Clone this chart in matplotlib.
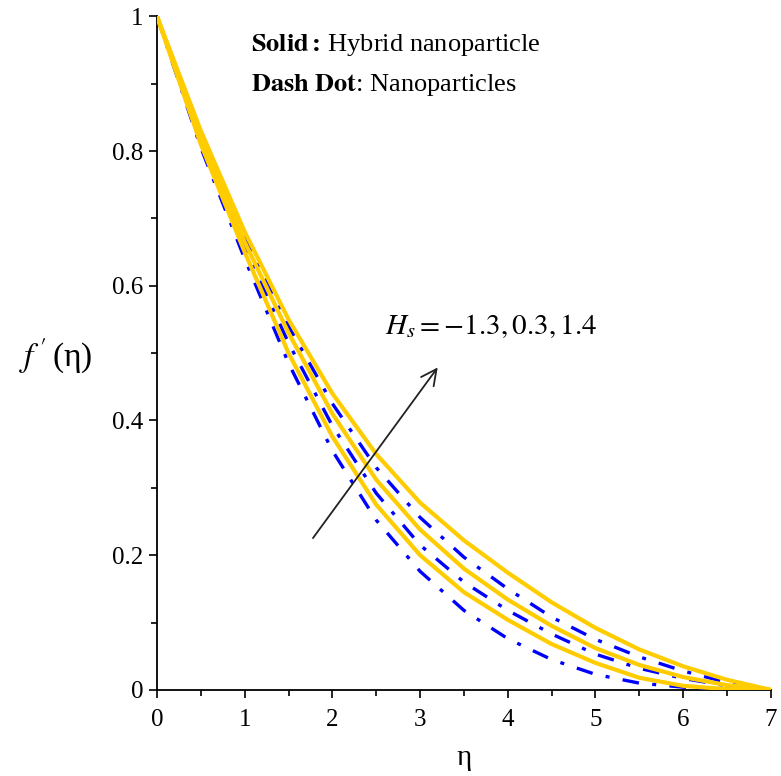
import matplotlib
matplotlib.use('Agg')
import matplotlib.pyplot as plt
import numpy as np

plt.rcParams['font.family'] = ['Liberation Serif', 'DejaVu Serif']
plt.rcParams['mathtext.fontset'] = 'stix'

eta = [0, 0.5, 1, 1.5, 2, 2.5, 3, 3.5, 4, 4.5, 5, 5.5, 6, 6.5, 7]

# solid: hybrid nanoparticle, Hs = 1.4, 0.3, -1.3 (top to bottom)
hybrid_hs_14 = [1, 0.83, 0.68, 0.55, 0.44, 0.35, 0.278, 0.222, 0.174, 0.13, 0.092, 0.06, 0.035, 0.015, 0]
hybrid_hs_03 = [1, 0.82, 0.665, 0.53, 0.41, 0.312, 0.238, 0.18, 0.134, 0.095, 0.062, 0.037, 0.019, 0.007, 0]
hybrid_hs_m13 = [1, 0.81, 0.65, 0.50, 0.376, 0.275, 0.20, 0.145, 0.104, 0.068, 0.04, 0.018, 0.006, 0.001, 0]

# dash dot: nanoparticles
nano_hs_14 = [1, 0.825, 0.672, 0.54, 0.425, 0.33, 0.256, 0.197, 0.15, 0.108, 0.075, 0.049, 0.028, 0.011, 0]
nano_hs_03 = [1, 0.815, 0.657, 0.515, 0.392, 0.292, 0.215, 0.16, 0.118, 0.083, 0.053, 0.032, 0.017, 0.006, 0]
nano_hs_m13 = [1, 0.805, 0.64, 0.485, 0.355, 0.252, 0.176, 0.118, 0.076, 0.045, 0.023, 0.01, 0.004, 0.001, 0]

fig = plt.figure(figsize=(7.81, 7.76), dpi=100)
ax = fig.add_axes([0.201, 0.111, 0.786, 0.868])

for ys in [nano_hs_14, nano_hs_03, nano_hs_m13]:
    ax.plot(eta, ys, color='#0000ff', lw=2.4, linestyle=(0, (5, 4, 1.2, 4)))
for ys in [hybrid_hs_14, hybrid_hs_03, hybrid_hs_m13]:
    ax.plot(eta, ys, color='#ffcc00', lw=3)

ax.set_xlim(0, 7)
ax.set_ylim(0, 1)
ax.spines['top'].set_visible(False)
ax.spines['right'].set_visible(False)
ax.spines['left'].set_linewidth(1.3)
ax.spines['bottom'].set_linewidth(1.3)
for s in ['left', 'bottom']:
    ax.spines[s].set_zorder(0.5)

ax.set_xticks(np.arange(0, 8, 1))
ax.set_xticks(np.arange(0.5, 7, 1), minor=True)
ax.set_yticks([0, 0.2, 0.4, 0.6, 0.8, 1])
ax.set_yticklabels(['0', '0.2', '0.4', '0.6', '0.8', '1'])
ax.set_yticks([0.1, 0.3, 0.5, 0.7, 0.9], minor=True)
ax.tick_params(which='major', direction='out', length=6, width=1.2, labelsize=18, pad=8)
ax.tick_params(which='minor', direction='out', length=4, width=1.2)
ax.tick_params(axis='y', pad=4)

ax.set_xlabel('η', fontsize=21, labelpad=10)
ax.set_ylabel(r"$f^{\,\prime}\,$(η)", fontsize=24, rotation=0, va='center')
ax.yaxis.set_label_coords(-0.165, 0.495)

ax.text(1.07, 0.957, r"$\mathbf{Solid:}\,$Hybrid nanoparticle", fontsize=19, va='center')
ax.text(1.07, 0.898, r"$\mathbf{Dash\ Dot}$: Nanoparticles", fontsize=19, va='center')

ax.text(2.6, 0.54, r"$H_s = -1.3, 0.3, 1.4$", fontsize=21, va='center')
ax.annotate('', xy=(3.22, 0.482), xytext=(1.76, 0.222),
            arrowprops=dict(arrowstyle='->', color='#222222', lw=1.3, mutation_scale=28))

plt.savefig('out.png', dpi=100)
